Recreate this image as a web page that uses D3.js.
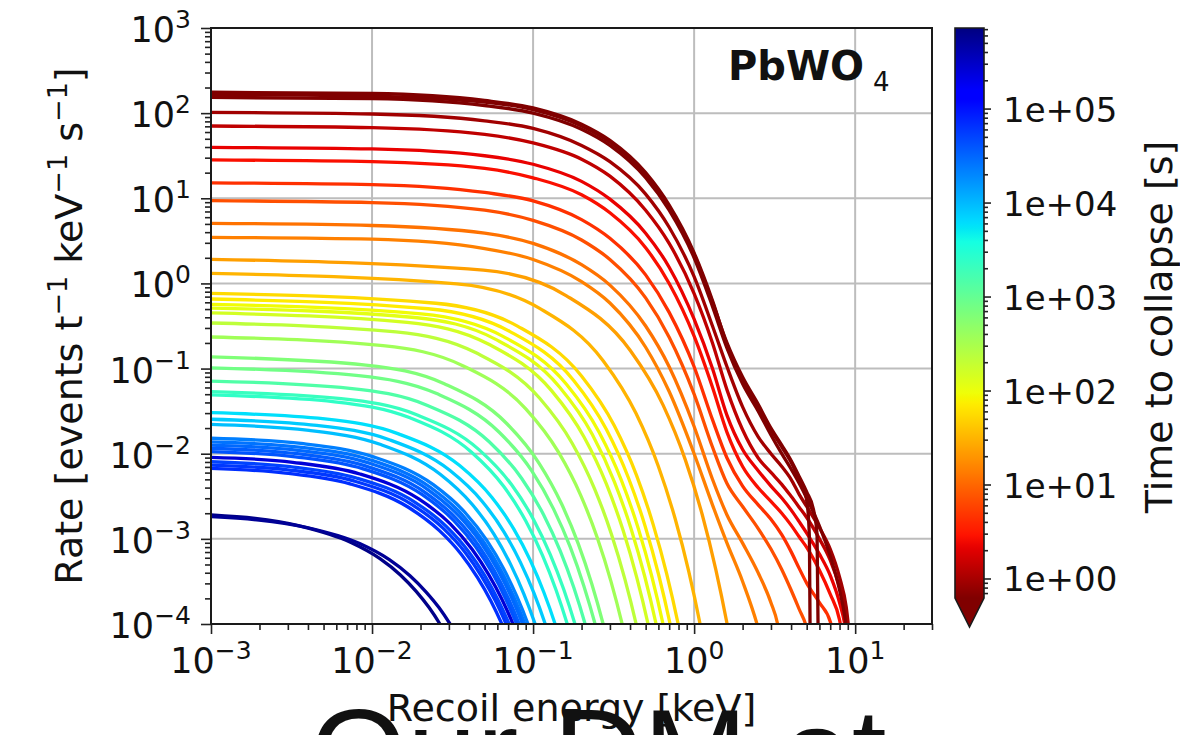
<!DOCTYPE html>
<html>
<head>
<meta charset="utf-8">
<script src="https://cdn.jsdelivr.net/npm/d3@7"></script>
<style>
  body { margin: 0; background: #fff; }
  svg { display: block; font-family: "DejaVu Sans", sans-serif; }
</style>
</head>
<body>
<svg id="chart" width="1180" height="735"></svg>
<script>
// ---------------- data ----------------
// Axis tick decades
const xTickExponents = [-3, -2, -1, 0, 1];
const yTickExponents = [-4, -3, -2, -1, 0, 1, 2, 3];
const colorTickExponents = [0, 1, 2, 3, 4, 5];

// Recoil spectra: [energy keV, rate events/t/keV/s], with time to collapse [s]
const navySpectra = [
  { time: 6.5e5, points: [[0.001,1.91e-3],[0.00354,1.42e-3],[0.00735,9.12e-4],[0.0112,5.86e-4],[0.015,3.77e-4],[0.0188,2.42e-4],[0.0226,1.56e-4],[0.0264,1e-4],[0.0302,6.4e-5]] },
  { time: 5.5e5, points: [[0.001,1.82e-3],[0.00395,1.36e-3],[0.00838,8.81e-4],[0.0128,5.70e-4],[0.0172,3.69e-4],[0.0216,2.39e-4],[0.0261,1.55e-4],[0.0305,1e-4],[0.0349,6.5e-5]] }
];

const blueSpectra = [
  { time: 2.2e4, points: [[0.001,1.52e-2],[0.00376,1.31e-2],[0.0102,9.18e-3],[0.024,4.33e-3],[0.0378,2.04e-3],[0.0516,9.58e-4],[0.0654,4.51e-4],[0.0792,2.12e-4],[0.093,1e-4],[0.1068,4.7e-5]] },
  { time: 2.6e4, points: [[0.001,1.38e-2],[0.00364,1.19e-2],[0.0098,8.45e-3],[0.023,4.04e-3],[0.0362,1.93e-3],[0.0494,9.19e-4],[0.0626,4.38e-4],[0.0758,2.09e-4],[0.089,1e-4],[0.1022,4.8e-5]] },
  { time: 3.0e4, points: [[0.001,1.26e-2],[0.00355,1.09e-2],[0.0095,7.80e-3],[0.0223,3.77e-3],[0.035,1.82e-3],[0.0478,8.83e-4],[0.0605,4.28e-4],[0.0733,2.07e-4],[0.086,1e-4],[0.0988,4.8e-5]] },
  { time: 3.5e4, points: [[0.001,1.16e-2],[0.00343,1.00e-2],[0.0091,7.19e-3],[0.0213,3.52e-3],[0.0334,1.73e-3],[0.0456,8.48e-4],[0.0577,4.16e-4],[0.0699,2.04e-4],[0.082,1e-4],[0.0942,4.8e-5]] },
  { time: 4.0e4, points: [[0.001,1.06e-2],[0.00334,9.19e-3],[0.0088,6.64e-3],[0.0205,3.30e-3],[0.0322,1.64e-3],[0.0439,8.15e-4],[0.0556,4.05e-4],[0.0673,2.01e-4],[0.079,1e-4],[0.0907,5.0e-5]] },
  { time: 2.5e5, points: [[0.001,9.08e-3],[0.00322,7.93e-3],[0.0084,5.78e-3],[0.0195,2.94e-3],[0.0306,1.50e-3],[0.0417,7.60e-4],[0.0528,3.86e-4],[0.0639,1.97e-4],[0.075,1e-4],[0.0861,5.1e-5]] },
  { time: 5.0e4, points: [[0.001,8.05e-3],[0.0031,7.06e-3],[0.008,5.19e-3],[0.0185,2.69e-3],[0.029,1.39e-3],[0.0395,7.21e-4],[0.05,3.73e-4],[0.0605,1.93e-4],[0.071,1e-4],[0.0815,5.2e-5]] },
  { time: 5.8e4, points: [[0.001,7.36e-3],[0.003,6.47e-3],[0.0077,4.79e-3],[0.0178,2.51e-3],[0.0278,1.32e-3],[0.0379,6.92e-4],[0.0479,3.63e-4],[0.058,1.91e-4],[0.068,1e-4],[0.0781,5.3e-5]] },
  { time: 6.6e4, points: [[0.001,6.73e-3],[0.0029,5.93e-3],[0.0073,4.42e-3],[0.0168,2.35e-3],[0.0262,1.25e-3],[0.0357,6.65e-4],[0.0451,3.53e-4],[0.0546,1.88e-4],[0.064,1e-4],[0.0735,5.3e-5]] }
];

const cyanGreenSpectra = [
  { time: 5.9e3, points: [[0.001,3.03e-2],[0.0051,2.56e-2],[0.0146,1.71e-2],[0.035,7.26e-3],[0.0554,3.08e-3],[0.0758,1.31e-3],[0.0962,5.56e-4],[0.1166,2.36e-4],[0.137,1e-4],[0.1574,4.2e-5]] },
  { time: 7.8e3, points: [[0.001,2.54e-2],[0.00454,2.15e-2],[0.0128,1.46e-2],[0.0305,6.35e-3],[0.0482,2.77e-3],[0.0659,1.21e-3],[0.0836,5.26e-4],[0.1013,2.30e-4],[0.119,1e-4],[0.1367,4.4e-5]] },
  { time: 9.2e3, points: [[0.001,2.21e-2],[0.00406,1.88e-2],[0.0112,1.29e-2],[0.0265,5.74e-3],[0.0418,2.55e-3],[0.0571,1.14e-3],[0.0724,5.05e-4],[0.0877,2.25e-4],[0.103,1e-4],[0.1183,4.5e-5]] },
  { time: 2.1e3, points: [[0.001,5.35e-2],[0.00643,4.43e-2],[0.0191,2.85e-2],[0.0463,1.11e-2],[0.0734,4.34e-3],[0.1006,1.69e-3],[0.1277,6.58e-4],[0.1549,2.56e-4],[0.182,1e-4],[0.2092,3.9e-5]] },
  { time: 2.4e3, points: [[0.001,4.90e-2],[0.00586,4.07e-2],[0.0172,2.64e-2],[0.0415,1.04e-2],[0.0658,4.11e-3],[0.0901,1.62e-3],[0.1144,6.41e-4],[0.1387,2.53e-4],[0.163,1e-4],[0.1873,4.0e-5]] },
  { time: 1.4e3, points: [[0.001,7.14e-2],[0.00728,5.86e-2],[0.0219,3.71e-2],[0.0534,1.38e-2],[0.0848,5.15e-3],[0.1162,1.92e-3],[0.1476,7.18e-4],[0.179,2.68e-4],[0.2104,1e-4],[0.2418,3.7e-5]] },
  { time: 800, points: [[0.001,1.02e-1],[0.00825,8.26e-2],[0.0252,5.08e-2],[0.0614,1.80e-2],[0.0977,6.37e-3],[0.1339,2.25e-3],[0.1702,7.98e-4],[0.2064,2.82e-4],[0.2427,1e-4],[0.279,3.5e-5]] },
  { time: 620, points: [[0.001,1.37e-1],[0.00914,1.10e-1],[0.0281,6.64e-2],[0.0688,2.25e-2],[0.1095,7.62e-3],[0.1502,2.58e-3],[0.1909,8.73e-4],[0.2316,2.95e-4],[0.2723,1e-4],[0.313,3.4e-5]] },
  { time: 360, points: [[0.001,2.35e-1],[0.0117,1.86e-1],[0.0366,1.08e-1],[0.0901,3.37e-2],[0.1435,1.05e-2],[0.197,3.29e-3],[0.2504,1.03e-3],[0.3039,3.21e-4],[0.3573,1e-4],[0.4107,3.1e-5]] },
  { time: 220, points: [[0.001,3.43e-1],[0.0141,2.69e-1],[0.0446,1.52e-1],[0.1099,4.48e-2],[0.1752,1.32e-2],[0.2405,3.90e-3],[0.3059,1.15e-3],[0.3712,3.39e-4],[0.4365,1e-4],[0.5018,2.9e-5]] }
];

const yellowOrangeSpectra = [
  { time: 150, points: [[0.001,4.50e-1],[0.0165,3.49e-1],[0.0527,1.94e-1],[0.1302,5.50e-2],[0.2076,1.56e-2],[0.2851,4.41e-3],[0.3626,1.25e-3],[0.4401,3.53e-4],[0.5176,1e-4],[0.5951,2.8e-5]] },
  { time: 115, points: [[0.001,5.14e-1],[0.0184,3.98e-1],[0.059,2.19e-1],[0.1459,6.07e-2],[0.2329,1.69e-2],[0.3198,4.68e-3],[0.4068,1.30e-3],[0.4937,3.61e-4],[0.5807,1e-4],[0.6677,2.8e-5]] },
  { time: 90, points: [[0.001,5.69e-1],[0.0202,4.39e-1],[0.065,2.39e-1],[0.1611,6.55e-2],[0.2571,1.79e-2],[0.3531,4.90e-3],[0.4491,1.34e-3],[0.5452,3.66e-4],[0.6412,1e-4],[0.7372,2.7e-5]] },
  { time: 70, points: [[0.001,6.56e-1],[0.0223,5.04e-1],[0.0719,2.72e-1],[0.1782,7.30e-2],[0.2844,1.95e-2],[0.3907,5.22e-3],[0.497,1.40e-3],[0.6033,3.74e-4],[0.7096,1e-4],[0.8159,2.7e-5]] },
  { time: 55, points: [[0.001,7.66e-1],[0.0249,5.85e-1],[0.0805,3.13e-1],[0.1998,8.18e-2],[0.3191,2.14e-2],[0.4384,5.60e-3],[0.5576,1.46e-3],[0.6769,3.83e-4],[0.7962,1e-4],[0.9155,2.6e-5]] },
  { time: 31, points: [[0.001,1.31],[0.0336,9.89e-1],[0.1098,5.09e-1],[0.273,1.23e-1],[0.4362,2.96e-2],[0.5994,7.13e-3],[0.7626,1.72e-3],[0.9258,4.15e-4],[1.089,1e-4],[1.252,2.4e-5]] },
  { time: 23, points: [[0.001,1.92],[0.0491,1.43],[0.1612,7.16e-1],[0.4015,1.63e-1],[0.6418,3.72e-2],[0.8821,8.46e-3],[1.1224,1.93e-3],[1.3627,4.39e-4],[1.603,1e-4],[1.843,2.3e-5]] }
];

const redSpectra = [
  { time: 14.5, points: [[0.001,3.48],[0.01,3.31],[0.05,2.57],[0.1,1.91],[0.2,1.05],[0.3,0.589],[0.5,0.178],[0.7,5.37e-2],[1,1.0e-2],[1.3,2.51e-3],[1.6,8.91e-4],[2,3.16e-4],[2.5,8.9e-5],[2.7,5.0e-5]] },
  { time: 11.7, points: [[0.001,5.08],[0.01,4.79],[0.05,3.89],[0.1,2.95],[0.2,1.66],[0.3,0.955],[0.5,0.316],[0.7,0.105],[1,2.09e-2],[1.3,5.01e-3],[1.6,1.91e-3],[2,8.91e-4],[2.5,3.98e-4],[3,1.78e-4],[3.3,1.0e-4],[3.5,5.0e-5]] },
  { time: 7, points: [[0.001,9.37],[0.01,8.91],[0.05,7.24],[0.1,5.50],[0.2,3.24],[0.3,1.91],[0.5,0.676],[0.7,0.234],[1,5.01e-2],[1.3,1.20e-2],[1.6,4.47e-3],[2,2.40e-3],[2.5,1.32e-3],[3,7.59e-4],[3.5,4.37e-4],[4,2.51e-4],[4.5,1.48e-4],[5,8.9e-5],[5.3,5.0e-5]] },
  { time: 4.4, points: [[0.001,15.2],[0.01,14.5],[0.05,11.7],[0.1,9.33],[0.2,5.62],[0.3,3.39],[0.5,1.26],[0.7,0.457],[1,0.105],[1.3,2.51e-2],[1.6,8.91e-3],[2,4.17e-3],[2.5,2.51e-3],[3,1.70e-3],[3.5,1.12e-3],[4,7.08e-4],[4.5,4.47e-4],[5,3.02e-4],[6,1.78e-4],[7,1.07e-4],[7.5,6.3e-5]] },
  { time: 2.7, points: [[0.001,28.2],[0.01,26.9],[0.05,22.4],[0.1,17.4],[0.2,11.0],[0.3,6.76],[0.5,2.63],[0.7,1.0],[1,0.240],[1.3,6.03e-2],[1.6,1.78e-2],[2,7.08e-3],[2.5,3.98e-3],[3,2.75e-3],[3.5,2.0e-3],[4,1.45e-3],[4.5,1.05e-3],[5,7.94e-4],[6,4.27e-4],[7,2.24e-4],[8,1.12e-4],[8.6,5.0e-5]] },
  { time: 2.2, points: [[0.001,39.7],[0.01,38.0],[0.05,31.6],[0.1,25.1],[0.2,15.8],[0.3,9.77],[0.5,3.89],[0.7,1.55],[1,0.380],[1.3,0.100],[1.6,2.82e-2],[2,1.12e-2],[2.5,6.31e-3],[3,4.17e-3],[3.5,3.02e-3],[4,2.19e-3],[4.5,1.58e-3],[5,1.17e-3],[6,6.61e-4],[7,3.72e-4],[8,1.78e-4],[8.7,8.9e-5],[9.1,4.5e-5]] },
  { time: 1.33, points: [[0.001,70.6],[0.01,67.6],[0.05,56.2],[0.1,44.7],[0.2,28.8],[0.3,18.2],[0.5,7.24],[0.7,2.95],[1,0.759],[1.3,0.200],[1.6,5.62e-2],[2,1.91e-2],[2.5,8.91e-3],[3,6.03e-3],[3.5,4.37e-3],[4,3.16e-3],[4.5,2.34e-3],[5,1.78e-3],[6,1.0e-3],[7,5.62e-4],[8,2.69e-4],[8.8,1.26e-4],[9.3,5.0e-5]] },
  { time: 0.93, points: [[0.001,102],[0.01,97.7],[0.05,81.3],[0.1,66.1],[0.2,41.7],[0.3,26.9],[0.5,11.2],[0.7,4.57],[1,1.20],[1.3,0.316],[1.6,0.105],[2,3.55e-2],[2.5,1.58e-2],[3,1.0e-2],[3.5,7.08e-3],[4,5.01e-3],[4.5,3.31e-3],[5,2.40e-3],[6,1.35e-3],[7,7.59e-4],[8,3.55e-4],[8.8,1.58e-4],[9.4,5.0e-5]] },
  { time: 0.5, points: [[0.001,153],[0.01,148],[0.05,123],[0.1,100],[0.2,64.6],[0.3,41.7],[0.5,17.4],[0.7,7.24],[1,2.0],[1.3,0.537],[1.6,0.174],[2,6.61e-2],[2.5,3.16e-2],[3,1.66e-2],[3.5,1.0e-2],[4,6.61e-3],[4.5,4.47e-3],[5,3.02e-3],[6,1.41e-3],[7,6.31e-4],[8,2.51e-4],[8.6,1.26e-4],[9.1,5.0e-5]] },
  { time: 0.4, points: [[0.001,166],[0.01,158],[0.05,135],[0.1,110],[0.2,70.8],[0.3,45.7],[0.5,19.1],[0.7,7.94],[1,2.19],[1.3,0.603],[1.6,0.200],[2,7.94e-2],[2.5,3.80e-2],[3,2.0e-2],[3.5,1.26e-2],[4,8.32e-3],[4.5,5.37e-3],[5,3.55e-3],[5.5,2.24e-3],[5.8,1.12e-3],[5.92,3.16e-5]] },
  { time: 0.3, points: [[0.001,176],[0.01,170],[0.05,141],[0.1,115],[0.2,74.1],[0.3,47.9],[0.5,20.0],[0.7,8.32],[1,2.29],[1.3,0.631],[1.6,0.191],[2,7.59e-2],[2.5,3.55e-2],[3,1.91e-2],[3.5,1.20e-2],[4,7.94e-3],[4.5,5.01e-3],[4.8,3.80e-3],[5.05,2.51e-3],[5.2,1.0e-3],[5.27,3.16e-5]] }
];

// Color limits of the time-to-collapse scale [s]
const timeRange = [0.62, 7.2e5];

// ---------------- layout ----------------
const plot = { left: 211, right: 932, top: 28, bottom: 624 };
const bar = { left: 955, width: 29, top: 28, bottom: 598, tip: 627 };

// jet colormap control points (reversed when applied)
const jetChannels = {
  r: [[0, 0], [0.35, 0], [0.66, 1], [0.89, 1], [1, 0.5]],
  g: [[0, 0], [0.125, 0], [0.375, 1], [0.64, 1], [0.91, 0], [1, 0]],
  b: [[0, 0.5], [0.11, 1], [0.34, 1], [0.65, 0], [1, 0]]
};
const chan = k => d3.scaleLinear()
  .domain(jetChannels[k].map(p => p[0]))
  .range(jetChannels[k].map(p => p[1])).clamp(true);
const jr = chan("r"), jg = chan("g"), jb = chan("b");
const jetR = n => d3.rgb(255 * jr(1 - n), 255 * jg(1 - n), 255 * jb(1 - n)).formatHex();

const x = d3.scaleLog().domain([1e-3, 30]).range([plot.left, plot.right]);
const y = d3.scaleLog().domain([1e-4, 1e3]).range([plot.bottom, plot.top]);
const tNorm = d3.scaleLog().domain(timeRange).range([0, 1]).clamp(true);
const tY = d3.scaleLog().domain(timeRange).range([bar.bottom, bar.top]);
const timeColor = t => jetR(tNorm(t));

const svg = d3.select("#chart");
const defs = svg.append("defs");

defs.append("clipPath").attr("id", "plot-clip")
  .append("rect")
  .attr("x", plot.left).attr("y", plot.top)
  .attr("width", plot.right - plot.left).attr("height", plot.bottom - plot.top);

// minor tick helper: 2..9 x 10^n inside a domain
function minorTicks(domain) {
  const out = [];
  const lo = Math.floor(Math.log10(domain[0])), hi = Math.ceil(Math.log10(domain[1]));
  for (let e = lo; e <= hi; e++) {
    for (let k = 2; k <= 9; k++) {
      const v = k * Math.pow(10, e);
      if (v >= domain[0] * 0.999 && v <= domain[1] * 1.001) out.push(v);
    }
  }
  return out;
}

// ---------------- caption text running off the lower edge ----------------
svg.append("text")
  .attr("x", 310).attr("y", 796)
  .attr("font-family", "Liberation Sans, Arial, sans-serif")
  .attr("font-size", 125).attr("fill", "#111")
  .text("Our DM at");

// ---------------- grid ----------------
const grid = svg.append("g").attr("stroke", "#bdbdbd").attr("stroke-width", 2);
xTickExponents.forEach(e => {
  const v = Math.pow(10, e);
  grid.append("line").attr("x1", x(v)).attr("x2", x(v)).attr("y1", plot.top).attr("y2", plot.bottom);
});
yTickExponents.forEach(e => {
  const v = Math.pow(10, e);
  grid.append("line").attr("x1", plot.left).attr("x2", plot.right).attr("y1", y(v)).attr("y2", y(v));
});

// ---------------- curves ----------------
const line = d3.line()
  .x(d => x(d[0]))
  .y(d => y(d[1]))
  .curve(d3.curveMonotoneX);

const allSpectra = [].concat(navySpectra, blueSpectra, cyanGreenSpectra, yellowOrangeSpectra, redSpectra);
svg.append("g").attr("clip-path", "url(#plot-clip)")
  .selectAll("path")
  .data(allSpectra)
  .join("path")
  .attr("d", d => line(d.points))
  .attr("fill", "none")
  .attr("stroke", d => timeColor(d.time))
  .attr("stroke-width", 3.3)
  .attr("stroke-linejoin", "round");

// ---------------- axes ----------------
const xMajor = xTickExponents.map(e => Math.pow(10, e));
const yMajor = yTickExponents.map(e => Math.pow(10, e));

function styleAxis(g) {
  g.select(".domain").remove();
  g.selectAll(".tick line").attr("stroke", "#222").attr("stroke-width", 1.6);
}

svg.append("g").attr("transform", `translate(0,${plot.bottom})`)
  .call(d3.axisBottom(x).tickValues(xMajor).tickSize(10).tickFormat(""))
  .call(styleAxis);
svg.append("g").attr("transform", `translate(0,${plot.bottom})`)
  .call(d3.axisBottom(x).tickValues(minorTicks(x.domain())).tickSize(6).tickFormat(""))
  .call(styleAxis);
svg.append("g").attr("transform", `translate(${plot.left},0)`)
  .call(d3.axisLeft(y).tickValues(yMajor).tickSize(10).tickFormat(""))
  .call(styleAxis);
svg.append("g").attr("transform", `translate(${plot.left},0)`)
  .call(d3.axisLeft(y).tickValues(minorTicks(y.domain())).tickSize(6).tickFormat(""))
  .call(styleAxis);

// power-of-ten labels
function powerLabel(sel, exp) {
  sel.append("tspan").text("10");
  sel.append("tspan").attr("dy", -14).attr("font-size", 25)
    .text(exp < 0 ? "\u2212" + Math.abs(exp) : String(exp));
}
xTickExponents.forEach(e => {
  const t = svg.append("text")
    .attr("x", x(Math.pow(10, e))).attr("y", 673)
    .attr("text-anchor", "middle").attr("font-size", 35).attr("fill", "#111");
  powerLabel(t, e);
});
yTickExponents.forEach(e => {
  const t = svg.append("text")
    .attr("x", 191).attr("y", y(Math.pow(10, e)) + 14)
    .attr("text-anchor", "end").attr("font-size", 35).attr("fill", "#111");
  powerLabel(t, e);
});

// frame
svg.append("rect")
  .attr("x", plot.left).attr("y", plot.top)
  .attr("width", plot.right - plot.left).attr("height", plot.bottom - plot.top)
  .attr("fill", "none").attr("stroke", "#1a1a1a").attr("stroke-width", 2);

// axis titles
svg.append("text")
  .attr("x", (plot.left + plot.right) / 2).attr("y", 721)
  .attr("text-anchor", "middle").attr("font-size", 38).attr("fill", "#111")
  .text("Recoil energy [keV]");

const yTitle = svg.append("text")
  .attr("transform", "translate(82,326) rotate(-90)")
  .attr("text-anchor", "middle").attr("font-size", 38).attr("fill", "#111");
yTitle.append("tspan").text("Rate [events t");
yTitle.append("tspan").attr("dy", -15).attr("font-size", 27).text("\u22121");
yTitle.append("tspan").attr("dy", 15).text(" keV");
yTitle.append("tspan").attr("dy", -15).attr("font-size", 27).text("\u22121");
yTitle.append("tspan").attr("dy", 15).text(" s");
yTitle.append("tspan").attr("dy", -15).attr("font-size", 27).text("\u22121");
yTitle.append("tspan").attr("dy", 15).text("]");

// material label
const mat = svg.append("text").attr("x", 728).attr("y", 80).attr("fill", "#111");
mat.append("tspan").attr("font-size", 40).attr("font-weight", "bold").text("PbWO");
mat.append("tspan").attr("font-size", 26).attr("dx", 9).attr("dy", 11).text("4");

// ---------------- colorbar ----------------
const grad = defs.append("linearGradient").attr("id", "time-grad")
  .attr("x1", 0).attr("y1", 1).attr("x2", 0).attr("y2", 0);
d3.range(0, 129).forEach(i => {
  const n = i / 128;
  grad.append("stop").attr("offset", n).attr("stop-color", jetR(n));
});
svg.append("rect")
  .attr("x", bar.left).attr("y", bar.top)
  .attr("width", bar.width).attr("height", bar.bottom - bar.top)
  .attr("fill", "url(#time-grad)");
svg.append("path")
  .attr("d", `M${bar.left},${bar.bottom}L${bar.left + bar.width},${bar.bottom}L${bar.left + bar.width / 2},${bar.tip}Z`)
  .attr("fill", jetR(0));
svg.append("path")
  .attr("d", `M${bar.left},${bar.top}H${bar.left + bar.width}V${bar.bottom}L${bar.left + bar.width / 2},${bar.tip}L${bar.left},${bar.bottom}Z`)
  .attr("fill", "none").attr("stroke", "#1a1a1a").attr("stroke-width", 1.6);

const colorMajor = colorTickExponents.map(e => Math.pow(10, e));
svg.append("g").attr("transform", `translate(${bar.left + bar.width},0)`)
  .call(d3.axisRight(tY).tickValues(colorMajor).tickSize(7).tickFormat(""))
  .call(styleAxis);
svg.append("g").attr("transform", `translate(${bar.left + bar.width},0)`)
  .call(d3.axisRight(tY).tickValues(minorTicks(tY.domain())).tickSize(4).tickFormat(""))
  .call(styleAxis);
colorTickExponents.forEach(e => {
  svg.append("text")
    .attr("x", 1003).attr("y", tY(Math.pow(10, e)) + 13)
    .attr("font-size", 34).attr("fill", "#111")
    .text("1e+" + String(e).padStart(2, "0"));
});
svg.append("text")
  .attr("transform", "translate(1172,327) rotate(-90)")
  .attr("text-anchor", "middle").attr("font-size", 38).attr("fill", "#111")
  .text("Time to collapse [s]");
</script>
</body>
</html>
